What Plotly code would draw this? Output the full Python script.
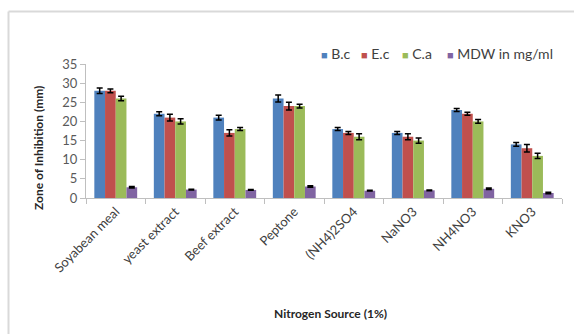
import plotly.graph_objects as go

categories = ["Soyabean meal", "yeast extract", "Beef extract", "Peptone",
              "(NH4)2SO4", "NaNO3", "NH4NO3", "KNO3"]
series_names = ["B.c", "E.c", "C.a", "MDW in mg/ml"]
bc = [28, 22, 21, 26, 18, 17, 23, 14]
ec = [28, 21, 17, 24, 17, 16, 22, 13]
ca = [26, 20, 18, 24, 16, 15, 20, 11]
mdw = [2.8, 2.2, 2.1, 3.0, 1.9, 2.0, 2.4, 1.3]
bc_err = [0.7, 0.5, 0.6, 0.9, 0.4, 0.4, 0.4, 0.5]
ec_err = [0.5, 0.9, 0.8, 1.0, 0.4, 0.8, 0.4, 1.0]
ca_err = [0.6, 0.7, 0.4, 0.5, 0.8, 0.7, 0.5, 0.7]
mdw_err = [0.2, 0.1, 0.1, 0.2, 0.1, 0.1, 0.2, 0.2]
colors = ["#4F81BD", "#C0504D", "#9BBB59", "#8064A2"]

W, H = 574, 334
L, R, T, B = 86, 12, 64, 136
pw, ph = W - L - R, H - T - B

fig = go.Figure()
for name, vals, errs, col in zip(series_names, [bc, ec, ca, mdw],
                                 [bc_err, ec_err, ca_err, mdw_err], colors):
    fig.add_trace(go.Bar(
        x=categories, y=vals, name=name, marker=dict(color=col, line=dict(width=0)),
        error_y=dict(type="data", array=errs, color="black", thickness=1.5, width=3),
    ))

font = "Lato, 'Open Sans', sans-serif"

def px_x(p):
    return (p - L) / pw

def px_y(p):
    return (H - B - p) / ph

legend_x = [319, 359, 400, 445]
annotations = []
for n, c, lx in zip(series_names, colors, legend_x):
    annotations.append(dict(
        text=f"<span style='color:{c};font-size:11px'>■</span> {n}",
        xref="paper", yref="paper", x=px_x(lx), y=px_y(53),
        xanchor="left", yanchor="middle", showarrow=False,
        font=dict(size=14, color="#404040")))

annotations += [
    dict(text="<b>Nitrogen Source (1%)</b>", xref="paper", yref="paper",
         x=px_x(330), y=px_y(313), xanchor="center", yanchor="middle", showarrow=False,
         font=dict(size=12, color="#262626")),
    dict(text="<b>Zone of Inhibition (mm)</b>", xref="paper", yref="paper",
         x=px_x(38), y=px_y(148), xanchor="center", yanchor="middle", showarrow=False,
         textangle=-90, font=dict(size=12, color="#262626")),
]

fig.update_layout(
    width=W, height=H,
    margin=dict(l=L, r=R, t=T, b=B, autoexpand=False),
    paper_bgcolor="white", plot_bgcolor="white",
    barmode="group", bargap=0.28, bargroupgap=0,
    font=dict(family=font, size=12, color="#404040"),
    showlegend=False,
    xaxis=dict(showline=True, linecolor="#BFBFBF", linewidth=1, automargin=False,
               ticks="outside", tickson="boundaries", ticklen=5, tickcolor="#BFBFBF",
               tickangle=-45, tickfont=dict(size=13, color="#404040")),
    yaxis=dict(range=[0, 35], dtick=5, showline=True, linecolor="#BFBFBF", linewidth=1,
               automargin=False,
               ticks="outside", ticklen=5, tickcolor="#BFBFBF", showgrid=False, zeroline=False,
               tickfont=dict(size=13, color="#595959")),
    annotations=annotations,
    shapes=[
        dict(type="line", xref="paper", yref="paper", x0=px_x(8.5), x1=px_x(580),
             y0=px_y(11.5), y1=px_y(11.5), line=dict(color="#D9D9D9", width=2)),
        dict(type="line", xref="paper", yref="paper", x0=px_x(8.5), x1=px_x(8.5),
             y0=px_y(11.5), y1=px_y(340), line=dict(color="#D9D9D9", width=2)),
    ],
)

fig.write_html("out.html")
